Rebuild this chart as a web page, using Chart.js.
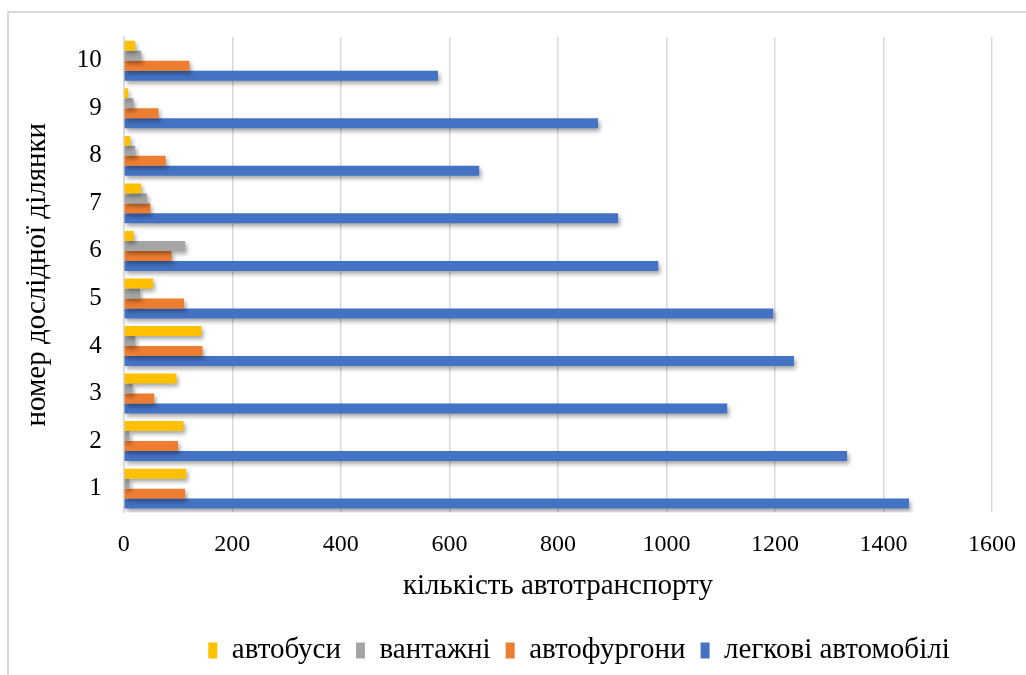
<!DOCTYPE html>
<html lang="uk">
<head>
<meta charset="utf-8">
<title>Кількість автотранспорту на дослідних ділянках</title>
<script src="https://cdn.jsdelivr.net/npm/chart.js@4/dist/chart.umd.min.js"></script>
<style>
  html, body { margin: 0; padding: 0; background: #fff; overflow: hidden; }
  #wrap { position: relative; width: 1026px; height: 675px; }
  #frame {
    position: absolute; left: 7px; top: 11px; width: 1040px; height: 700px;
    border-left: 2px solid #d9d9d9; border-top: 2px solid #d9d9d9;
  }
  canvas { position: absolute; left: 0; top: 0; }
</style>
</head>
<body>
<div id="wrap">
  <div id="frame"></div>
  <canvas id="chart" width="1026" height="675"></canvas>
</div>
<script>
// номери ділянок, знизу вгору
const sites = ['1', '2', '3', '4', '5', '6', '7', '8', '9', '10'];

const buses = [115, 110, 97, 143, 54, 18, 32, 12, 8, 21];        // автобуси
const trucks = [10, 10, 16, 21, 30, 113, 43, 21, 18, 32];        // вантажні
const vans = [113, 100, 56, 145, 111, 88, 49, 77, 64, 121];      // автофургони
const cars = [1447, 1333, 1112, 1235, 1197, 985, 911, 655, 874, 579]; // легкові автомобілі

const xTicksMax = 1600;
const xTicksStep = 200;

const serif = "'Liberation Serif', 'Times New Roman', serif";
Chart.defaults.font.family = serif;
Chart.defaults.color = '#000';

// soft drop shadow under the bars
const barShadow = {
    id: 'barShadow',
    beforeDatasetsDraw(chart) {
        const c = chart.ctx;
        c.save();
        c.shadowColor = 'rgba(0, 0, 0, 0.35)';
        c.shadowBlur = 4;
        c.shadowOffsetX = 2;
        c.shadowOffsetY = 3;
    },
    afterDatasetsDraw(chart) {
        chart.ctx.restore();
    }
};

// legend sits a little to the right of the canvas centre
const legendShift = {
    id: 'legendShift',
    afterLayout(chart, args, opts) {
        chart.legend.left += opts.dx;
        chart.legend.right += opts.dx;
    }
};

const ctx = document.getElementById('chart').getContext('2d');
new Chart(ctx, {
    type: 'bar',
    data: {
        labels: sites,
        datasets: [
            { label: 'автобуси', data: buses, backgroundColor: '#ffc000' },
            { label: 'вантажні', data: trucks, backgroundColor: '#a5a5a5' },
            { label: 'автофургони', data: vans, backgroundColor: '#ed7d31' },
            { label: 'легкові автомобілі', data: cars, backgroundColor: '#4472c4' },
        ],
    },
    options: {
        indexAxis: 'y',
        responsive: false,
        animation: false,
        devicePixelRatio: 1,
        categoryPercentage: 0.84,
        barPercentage: 1.0,
        layout: { padding: { left: 20, right: 0, top: 29, bottom: 0 } },
        plugins: {
            tooltip: { enabled: false },
            legendShift: { dx: 56 },
            legend: {
                position: 'bottom',
                labels: {
                    font: { family: serif, size: 29 },
                    color: '#000',
                    boxWidth: 9,
                    boxHeight: 16,
                    padding: 15,
                },
            },
        },
        scales: {
            x: {
                min: 0,
                max: xTicksMax,
                afterFit(scale) {
                    // room for the last tick label only
                    scale.paddingRight = 34;
                },
                ticks: {
                    stepSize: xTicksStep,
                    font: { family: serif, size: 24 },
                    color: '#000',
                    padding: 18,
                    callback: v => String(v),
                },
                grid: { color: '#d9d9d9', lineWidth: 1.5, drawTicks: false },
                border: { display: false },
                title: {
                    display: true,
                    text: 'кількість автотранспорту',
                    font: { family: serif, size: 29 },
                    color: '#000',
                    padding: { top: -8, bottom: 17 },
                },
            },
            y: {
                reverse: true,
                ticks: {
                    font: { family: serif, size: 25 },
                    color: '#000',
                    padding: 22,
                },
                grid: { display: false, drawTicks: false },
                border: { color: '#d9d9d9', width: 1.5 },
                title: {
                    display: true,
                    text: 'номер дослідної ділянки',
                    font: { family: serif, size: 29 },
                    color: '#000',
                    padding: { top: 0, bottom: 0 },
                },
            },
        },
    },
    plugins: [barShadow, legendShift],
});
</script>
</body>
</html>
